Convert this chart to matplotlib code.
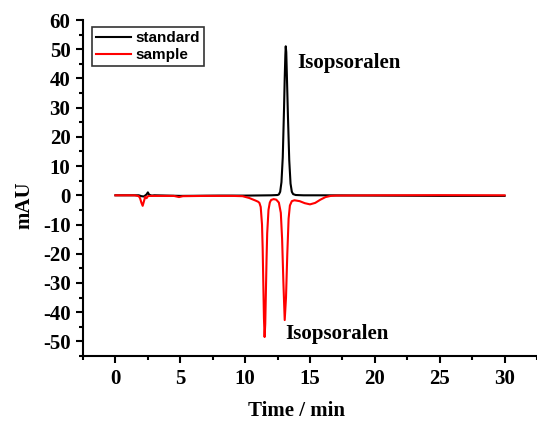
import matplotlib
matplotlib.use("Agg")
import matplotlib.pyplot as plt
from matplotlib.ticker import MultipleLocator

plt.rcParams["axes.unicode_minus"] = False

# standard trace (time in min, signal in mAU)
std_t = [0, 1.5, 1.8, 2.0, 2.2, 2.4, 2.5, 2.6, 2.8, 3.0, 5.0, 8.0, 10.0, 12.0, 12.5, 12.6, 12.7, 12.8,
         12.9, 13.0, 13.05, 13.1, 13.13, 13.17, 13.2, 13.3, 13.4, 13.5, 13.6, 13.7, 13.9, 14.5, 16, 20, 25, 30]
std_y = [0, 0, 0, -0.3, -0.4, 0.3, 1.0, 0.2, -0.1, 0, -0.2, -0.1, -0.1, 0, 0.1, 0.3, 1.2, 4.5,
         13, 30, 40, 48, 51, 49, 44, 27, 12, 4, 1.2, 0.4, 0.1, 0, 0, -0.1, -0.2, -0.2]

# sample trace
smp_t = [0, 1.5, 1.8, 1.9, 2.0, 2.1, 2.2, 2.3, 2.4, 2.5, 2.7, 3.0, 4.5, 4.9, 5.2, 7.0, 9.0, 9.8,
         10.3, 10.8, 11.0, 11.1, 11.2, 11.3, 11.35, 11.4, 11.45, 11.5, 11.55, 11.6, 11.65, 11.7, 11.8,
         11.9, 12.0, 12.2, 12.4, 12.6, 12.75, 12.85, 12.95, 13.05, 13.15, 13.25, 13.35, 13.45, 13.6,
         13.8, 14.2, 14.6, 15.0, 15.4, 15.8, 16.2, 16.6, 17.0, 20.0, 25.0, 30.0]
smp_y = [0, 0, -0.3, -1.0, -2.5, -3.6, -2.0, -0.5, -1.0, -0.3, -0.2, -0.2, -0.2, -0.6, -0.3, -0.2, -0.2, -0.3,
         -0.9, -1.8, -2.2, -2.6, -4.0, -10, -18, -30, -42, -48.5, -44, -33, -22, -13, -5,
         -2.5, -1.6, -1.3, -1.5, -2.5, -6, -15, -30, -42.7, -35, -20, -8, -3.5, -2.0,
         -1.7, -2.0, -2.7, -3.1, -2.6, -1.5, -0.6, -0.2, -0.1, 0, 0.05, 0]

x_ticks = [0, 5, 10, 15, 20, 25, 30]
y_ticks = [60, 50, 40, 30, 20, 10, 0, -10, -20, -30, -40, -50]

fig = plt.figure(figsize=(5.37, 4.21), dpi=100)
ax = fig.add_axes([83/537, 1 - 356/421, 1 - 83/537, (356 - 20)/421])

ax.plot(std_t, std_y, color="black", lw=1.5, label="standard")
ax.plot(smp_t, smp_y, color="red", lw=1.5, label="sample")

ax.set_xlim(-2.5, 32.5)
ax.set_ylim(-55, 60)
ax.set_xticks(x_ticks)
ax.set_yticks(y_ticks)
ax.xaxis.set_minor_locator(MultipleLocator(2.5))
ax.yaxis.set_minor_locator(MultipleLocator(5))

for s in ["top", "right"]:
    ax.spines[s].set_visible(False)
for s in ["left", "bottom"]:
    ax.spines[s].set_linewidth(1.5)

serif = ["Liberation Serif", "DejaVu Serif"]
ax.tick_params(which="major", direction="out", length=5, width=1.5, pad=4)
ax.tick_params(which="minor", direction="out", length=3, width=1.5)
for lab in ax.get_xticklabels() + ax.get_yticklabels():
    lab.set_fontfamily(serif)
    lab.set_fontweight("bold")
    lab.set_fontsize(15)

ax.set_xlabel("Time / min", fontfamily=serif, fontweight="bold", fontsize=15)
ax.set_ylabel("mAU", fontfamily=serif, fontweight="bold", fontsize=15)
ax.xaxis.set_label_coords(0.471, -0.134)
ax.yaxis.set_label_coords(-0.108, 0.449)

ax.text(14.0, 45.4, "Isopsoralen", fontfamily=serif, fontweight="bold", fontsize=15, va="center", ha="left")
ax.text(13.1, -47.4, "Isopsoralen", fontfamily=serif, fontweight="bold", fontsize=15, va="center", ha="left")

leg = ax.legend(loc="upper left", bbox_to_anchor=(0.02, 0.979), frameon=True, fancybox=False,
                prop={"family": ["Liberation Sans", "DejaVu Sans"], "weight": "bold", "size": 11},
                handlelength=2.3, borderpad=0.25, labelspacing=0.2, handletextpad=0.3, borderaxespad=0)
leg.get_frame().set_edgecolor("black")
leg.get_frame().set_linewidth(1.2)

fig.savefig("out.png", dpi=100)
